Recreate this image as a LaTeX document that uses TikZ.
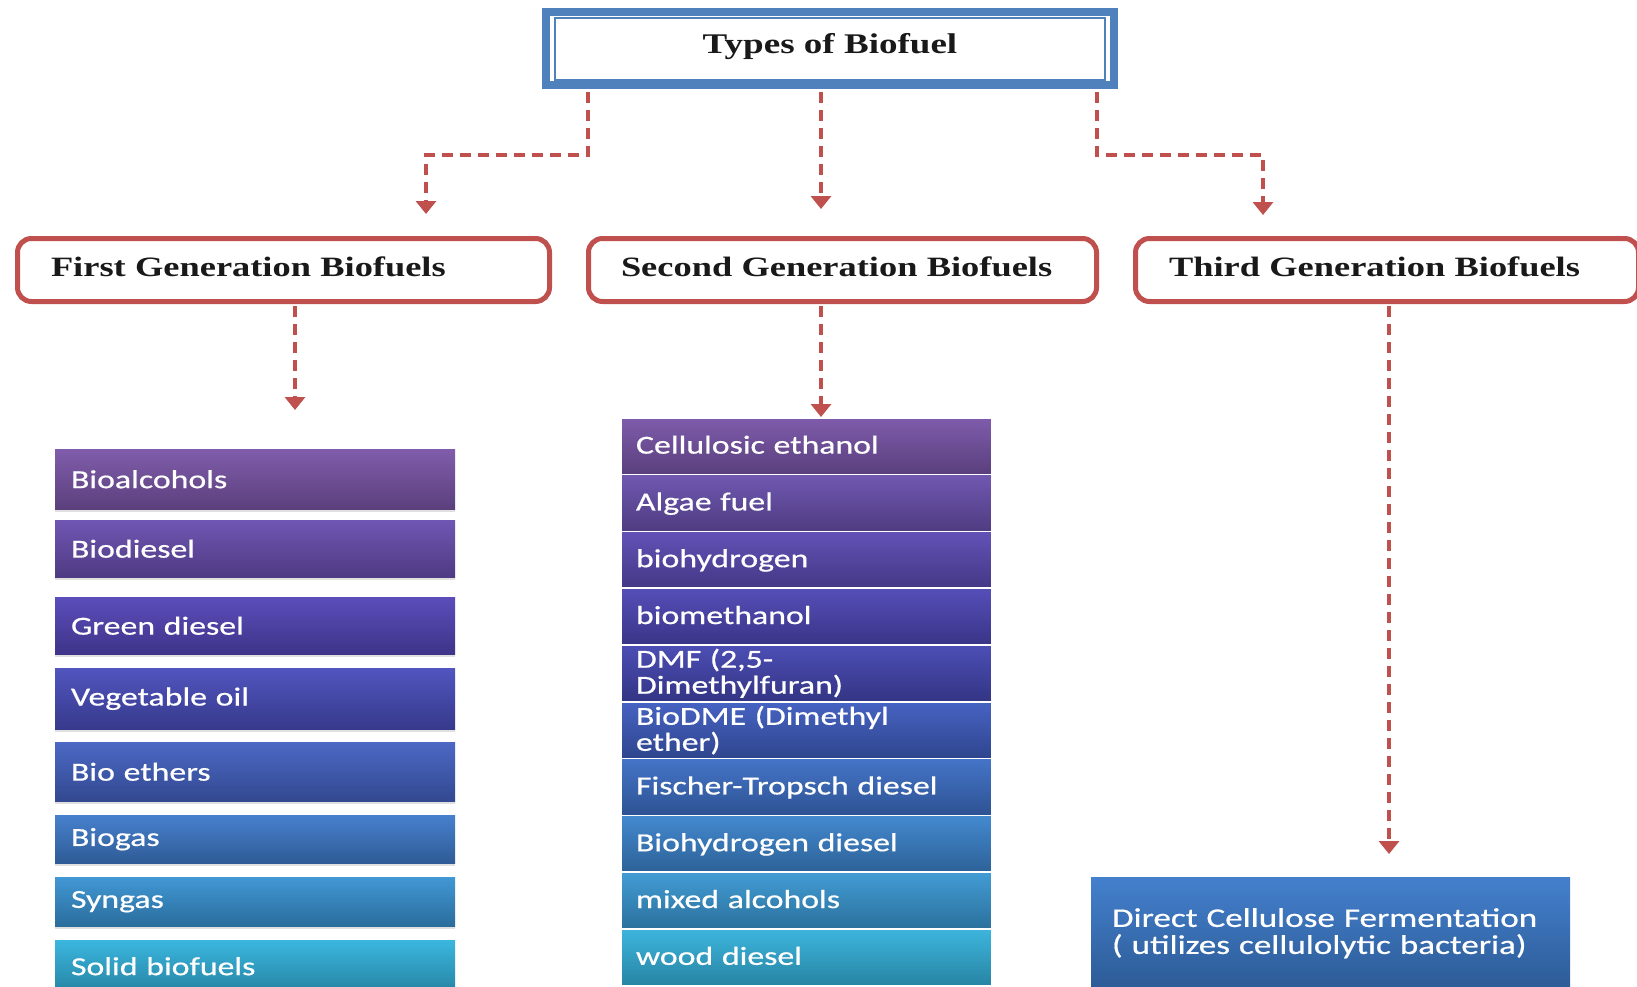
\documentclass[tikz,border=0pt]{standalone}
\usepackage{fontspec}
\setmainfont{Liberation Serif}
\newfontfamily\listfont[FakeStretch=1.3,FakeBold=0.6]{Carlito}
\newfontfamily\headfont[FakeStretch=1.3]{Liberation Serif}
\usetikzlibrary{arrows.meta,shadows}
\definecolor{redc}{HTML}{C0504D}
\definecolor{bluec}{HTML}{4F81BD}
\definecolor{c1}{HTML}{7B56A8}
\definecolor{c2}{HTML}{6A4FB0}
\definecolor{c3}{HTML}{5446B8}
\definecolor{c4}{HTML}{4A4EBC}
\definecolor{c5}{HTML}{4462C2}
\definecolor{c6}{HTML}{3F7BCB}
\definecolor{c7}{HTML}{3993D3}
\definecolor{c8}{HTML}{33B3DD}
\definecolor{d1}{HTML}{7955A8}
\definecolor{d2}{HTML}{6A51AE}
\definecolor{d3}{HTML}{5C4BB4}
\definecolor{d4}{HTML}{4E47B6}
\definecolor{d5}{HTML}{4547B2}
\definecolor{d6}{HTML}{3F5DC0}
\definecolor{d7}{HTML}{3D6FC6}
\definecolor{d8}{HTML}{3C84CD}
\definecolor{d9}{HTML}{3A98D3}
\definecolor{d10}{HTML}{35B2DC}
\definecolor{e1}{HTML}{3C7BCB}
\begin{document}
\begin{tikzpicture}[x=1pt,y=-1pt,
  conn/.style={draw=redc, line width=4.5pt, dash pattern=on 11pt off 7pt},
  arr/.style={-{Triangle[width=20pt,length=13pt]}},
  topbox/.style={draw=bluec, line width=8pt, fill=white, minimum width=568pt,
    minimum height=73pt, inner sep=0pt, text depth=11pt,
    font=\headfont\bfseries\fontsize{28.5}{30}\selectfont, text=black!90},
  genbox/.style={draw=redc, line width=5pt, rounded corners=14pt, fill=white,
    minimum height=63pt, inner ysep=0pt, align=left, text depth=6pt,
    font=\headfont\bfseries\fontsize{28}{30}\selectfont, text=black!90},
  grad/.style={top color=#1!96!white, bottom color=#1!74!black},
  itemA/.style={anchor=north, minimum width=400pt, text width=368pt,
    inner xsep=16pt, inner ysep=0pt, align=left, text=white,
    font=\listfont\fontsize{26}{26}\selectfont,
    drop shadow={shadow xshift=0pt, shadow yshift=-3pt, opacity=0.12, fill=black}},
  itemB/.style={anchor=north, minimum width=371pt, text width=341pt,
    minimum height=56.7pt, inner xsep=15pt, inner ysep=0pt, align=left,
    text=white, draw=white, line width=1.5pt,
    font=\listfont\fontsize{26}{26}\selectfont},
  oneline/.style={text depth=3pt},
  itemC/.style={anchor=north, minimum width=479pt, text width=437pt,
    minimum height=112pt, inner xsep=21pt, inner ysep=0pt, align=left,
    text=white, font=\listfont\fontsize{27}{27}\selectfont,
    drop shadow={shadow xshift=0pt, shadow yshift=-3pt, opacity=0.12, fill=black}}
]
\useasboundingbox (0,0) rectangle (1637,986);
\fill[white] (0,0) rectangle (1637,986);

% top box
\node[topbox] (top) at (830,48.5) {Types of Biofuel};
\draw[bluec, line width=2.5pt] ([xshift=13pt,yshift=-10pt]top.north west)
  rectangle ([xshift=-13pt,yshift=9pt]top.south east);

% generation boxes
\node[genbox, text width=465pt, inner xsep=33.5pt] (g1) at (283.5,270) {First Generation Biofuels};
\node[genbox, text width=443pt, inner xsep=32.5pt] (g2) at (842.5,270) {Second Generation Biofuels};
\node[genbox, text width=436pt, inner xsep=33.5pt] (g3) at (1387,270) {Third Generation Biofuels};

% first list
\node[itemA, grad=c1, minimum height=60pt] (f1) at (255,449) {Bioalcohols};
\node[itemA, grad=c2, minimum height=57pt] (f2) at (255,520) {Biodiesel};
\node[itemA, grad=c3, minimum height=57pt] (f3) at (255,597) {Green diesel};
\node[itemA, grad=c4, minimum height=61pt] (f4) at (255,668) {Vegetable oil};
\node[itemA, grad=c5, minimum height=59pt] (f5) at (255,742) {Bio ethers};
\node[itemA, grad=c6, minimum height=48pt] (f6) at (255,815) {Biogas};
\node[itemA, grad=c7, minimum height=49pt] (f7) at (255,877) {Syngas};
\node[itemA, grad=c8, minimum height=52pt] (f8) at (255,940) {Solid biofuels};

% second list
\node[itemB, oneline, grad=d1] (s1) at (806.5,417) {Cellulosic ethanol};
\node[itemB, oneline, grad=d2] (s2) at (806.5,473.8) {Algae fuel};
\node[itemB, oneline, grad=d3] (s3) at (806.5,530.6) {biohydrogen};
\node[itemB, oneline, grad=d4] (s4) at (806.5,587.4) {biomethanol};
\node[itemB, grad=d5] (s5) at (806.5,644.2) {DMF (2,5-\\Dimethylfuran)};
\node[itemB, grad=d6] (s6) at (806.5,701) {BioDME (Dimethyl\\ether)};
\node[itemB, oneline, grad=d7] (s7) at (806.5,757.8) {Fischer-Tropsch diesel};
\node[itemB, oneline, grad=d8] (s8) at (806.5,814.6) {Biohydrogen diesel};
\node[itemB, oneline, grad=d9] (s9) at (806.5,871.4) {mixed alcohols};
\node[itemB, oneline, grad=d10] (s10) at (806.5,928.2) {wood diesel};

% third
\node[itemC, grad=e1] (t1) at (1330.5,877) {Direct Cellulose Fermentation\\( utilizes cellulolytic bacteria)};

% connectors
\coordinate (a1) at (426,214);
\coordinate (a2) at (821,209);
\coordinate (a3) at (1263,215);
\coordinate (a4) at (295,410);
\coordinate (a6) at (1389,854);
\draw[conn,arr,shorten <=3pt] ([xshift=-242pt]top.south) -- ++(0,66) -| (a1);
\draw[conn,arr,shorten <=3pt] ([xshift=-9pt]top.south) -- (a2);
\draw[conn,arr,shorten <=3pt] ([xshift=267pt]top.south) -- ++(0,66) -| (a3);
\draw[conn,arr,shorten <=2pt] ([xshift=11.5pt]g1.south) -- (a4);
\draw[conn,arr,shorten <=2pt] ([xshift=-21.5pt]g2.south) -- ([xshift=-21.5pt]g2.south |- s1.north);
\draw[conn,arr,shorten <=2pt] ([xshift=2pt]g3.south) -- (a6);
\end{tikzpicture}
\end{document}
